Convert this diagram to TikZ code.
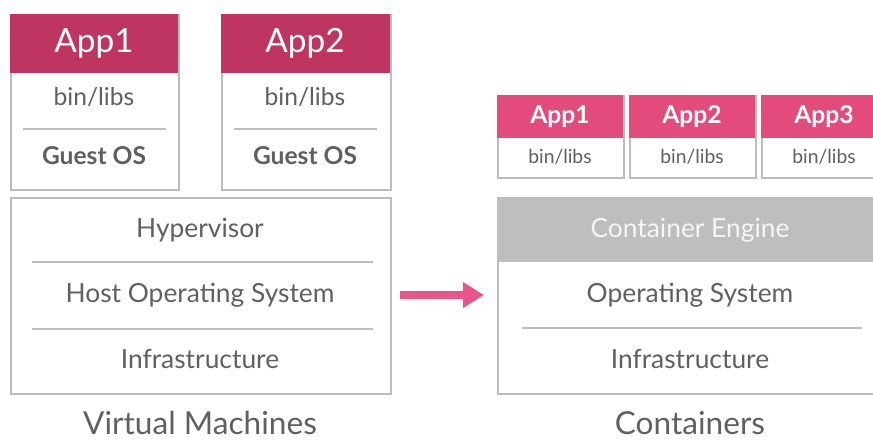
\documentclass[tikz,border=0pt]{standalone}
\usepackage{fontspec}
\setmainfont{Lato}
\usetikzlibrary{arrows.meta}

\definecolor{vmpink}{HTML}{BF3562}
\definecolor{ctpink}{HTML}{E24B7C}
\definecolor{arrowpink}{HTML}{E8548C}
\definecolor{framegray}{HTML}{BDBDBD}
\definecolor{textgray}{HTML}{606060}
\definecolor{enginegray}{HTML}{BEBEBE}

\tikzset{
  frame/.style={draw=framegray, line width=1.2pt, fill=white},
  sepline/.style={draw=framegray, line width=1pt},
  lbl/.style={text=textgray, inner sep=0pt},
}

\begin{document}
\begin{tikzpicture}[x=0.02cm, y=-0.02cm]
\useasboundingbox (0,0) rectangle (873,441);

% virtual machines
\node[frame, anchor=north west, minimum width=168*0.02cm, minimum height=175*0.02cm] (vmone) at (10,14) {};
\fill[vmpink] (10,14) rectangle (178,73);
\node[lbl, text=white, font=\fontsize{19}{19}\selectfont] (vmoneapp) at (94,43) {App1};
\node[lbl, font=\fontsize{14}{14}\selectfont] (vmonebin) at (94,97) {bin/libs};
\draw[sepline] (23,129) -- (166,129);
\node[lbl, font=\fontsize{14}{14}\selectfont\bfseries] (vmoneos) at (94,156) {Guest OS};

\node[frame, anchor=north west, minimum width=169*0.02cm, minimum height=175*0.02cm] (vmtwo) at (221,14) {};
\fill[vmpink] (221,14) rectangle (390,73);
\node[lbl, text=white, font=\fontsize{19}{19}\selectfont] (vmtwoapp) at (305,43) {App2};
\node[lbl, font=\fontsize{14}{14}\selectfont] (vmtwobin) at (305,97) {bin/libs};
\draw[sepline] (234,129) -- (377,129);
\node[lbl, font=\fontsize{14}{14}\selectfont\bfseries] (vmtwoos) at (305,156) {Guest OS};

\node[frame, anchor=north west, minimum width=380*0.02cm, minimum height=196*0.02cm] (vmbase) at (10,197) {};
\node[lbl, font=\fontsize{15}{15}\selectfont] (hyper) at (200,230) {Hypervisor};
\draw[sepline] (32,262) -- (373,262);
\node[lbl, font=\fontsize{15}{15}\selectfont] (hostos) at (200,295) {Host Operating System};
\draw[sepline] (32,329) -- (373,329);
\node[lbl, font=\fontsize{15}{15}\selectfont] (vminfra) at (200,359) {Infrastructure};

\node[lbl, font=\fontsize{18}{18}\selectfont] (vmtitle) at (200,423) {Virtual Machines};

% containers
\foreach \n/\x in {1/497, 2/629, 3/761} {
  \node[frame, anchor=north west, minimum width=126*0.02cm, minimum height=82*0.02cm] (ct\n) at (\x,95) {};
  \fill[ctpink] (\x,95) rectangle (\x+126,138);
  \node[lbl, text=white, font=\fontsize{14}{14}\selectfont\bfseries] (ct\n app) at (\x+63,117) {App\n};
  \node[lbl, font=\fontsize{11}{11}\selectfont] (ct\n bin) at (\x+63,157) {bin/libs};
}

\node[frame, anchor=north west, minimum width=400*0.02cm, minimum height=196*0.02cm] (ctbase) at (497,197) {};
\fill[enginegray] (497,197) rectangle (890,262);
\node[lbl, text=white!92!gray, font=\fontsize{15}{15}\selectfont] (engine) at (690,230) {Container Engine};
\node[lbl, font=\fontsize{15}{15}\selectfont] (ctos) at (690,295) {Operating System};
\draw[sepline] (522,328) -- (862,328);
\node[lbl, font=\fontsize{15}{15}\selectfont] (ctinfra) at (690,359) {Infrastructure};

\node[lbl, font=\fontsize{18}{18}\selectfont] (cttitle) at (690,423) {Containers};

% arrow
\draw[arrowpink, line width=4pt, -{Triangle[length=12pt, width=14pt]}, shorten <=8*0.02cm, shorten >=13*0.02cm]
  (vmbase.east |- hostos) -- (ctbase.west |- hostos);
\end{tikzpicture}
\end{document}
